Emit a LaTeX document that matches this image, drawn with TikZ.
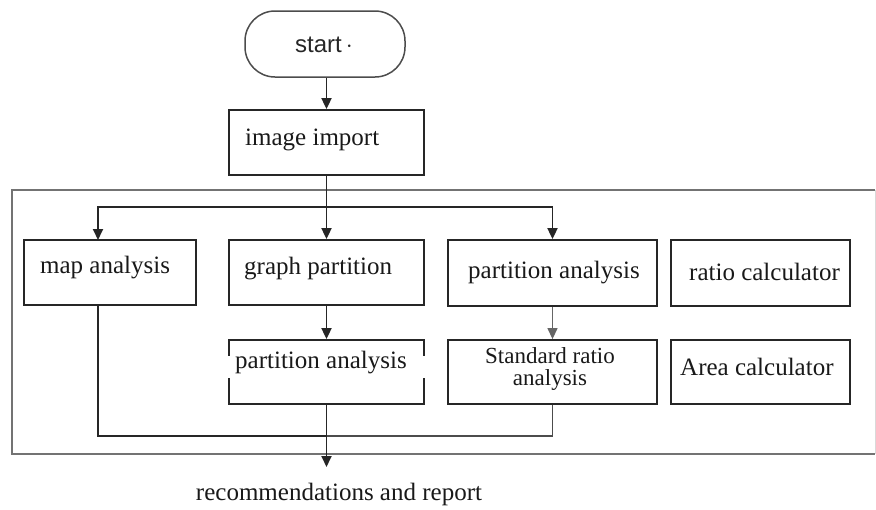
\documentclass[tikz,border=0pt]{standalone}
\usepackage{fontspec}
\setmainfont{Liberation Serif}
\newfontfamily\sansf{Liberation Sans}
\usetikzlibrary{arrows.meta}
\begin{document}
\begin{tikzpicture}[x=1pt,y=-1pt,
  box/.style={draw=black!85,line width=1.8pt,minimum width=#1,inner sep=0pt},
  txt/.style={font=\fontsize{25}{27}\selectfont,text=black!90,inner sep=0pt},
  conn/.style={draw=black!85,line width=1.8pt},
  arr/.style={conn,-{Triangle[length=11pt,width=10pt]}},
  thinarr/.style={draw=black!60,line width=1.2pt,-{Triangle[length=11pt,width=10pt]}},
  frame/.style={draw=black!55,line width=1.5pt}]
\useasboundingbox (0,0) rectangle (876,509);
% outer frame
\draw[frame] (875,190) -- (12,190) -- (12,454) -- (875,454);
\draw[draw=black!15,line width=0.8pt] (875,190) -- (875,454);
% start
\node[box=160pt,minimum height=66pt,rounded corners=30pt,draw=black!70,line width=1.5pt] (start) at (325,44) {};
\node[font=\sansf\fontsize{24}{26}\selectfont,text=black!85,inner sep=0pt] (starttxt) at (324,45) {start\,$\cdot$};
% image import
\node[box=195pt,minimum height=65pt] (imp) at (326.5,142.5) {};
\node[txt,anchor=west] (imptxt) at (245,140) {image import};
% row 1
\node[box=172pt,minimum height=65pt] (map) at (110,272.5) {};
\node[txt,anchor=west] (maptxt) at (40,268) {map analysis};
\node[box=195pt,minimum height=65pt] (gp) at (326.5,272.5) {};
\node[txt,anchor=west] (gptxt) at (244,269) {graph partition};
\node[box=209pt,minimum height=66pt] (pa1) at (552.5,273) {};
\node[txt,anchor=west] (pa1txt) at (468,273) {partition analysis};
\node[box=179pt,minimum height=66pt] (rc) at (760.5,273) {};
\node[txt,anchor=west] (rctxt) at (689,272) {ratio calculator};
% row 2
\node[box=195pt,minimum height=64pt] (pa2) at (326.5,372) {};
\node[fill=white,minimum width=202pt,minimum height=22pt,inner sep=0pt] (pa2gap) at (326.5,366.5) {};
\node[txt,anchor=west] (pa2txt) at (235,363) {partition analysis};
\node[box=209pt,minimum height=64pt] (sra) at (552.5,372) {};
\node[txt,align=center,font=\fontsize{23}{22.5}\selectfont] (sratxt) at (550,369) {Standard ratio\\analysis};
\node[box=179pt,minimum height=64pt] (ac) at (760.5,372) {};
\node[txt,anchor=west] (actxt) at (680,367) {Area calculator};
% bottom text
\node[txt] (rec) at (339,494) {recommendations and report};
% connectors
\draw[arr] (start.south -| imp.north) -- (imp.north);
\draw[arr] (imp.south) -- (gp.north);
\coordinate (jl) at (326.5,207);
\coordinate (mapin) at (98,240);
\coordinate (mapout) at (98,305);
\draw[arr] (jl) -| (mapin);
\draw[arr] (jl) -| (pa1.north);
\draw[arr] (gp.south) -- (pa2.north);
\draw[thinarr] (pa1.south) -- (sra.north);
\coordinate (merge) at (326.5,436);
\draw[conn] (mapout) |- (merge);
\draw[draw=black!70,line width=1.4pt] (merge) -| (sra.south);
\coordinate (outtip) at (326.5,467);
\draw[arr] (pa2.south) -- (outtip);
\end{tikzpicture}
\end{document}
